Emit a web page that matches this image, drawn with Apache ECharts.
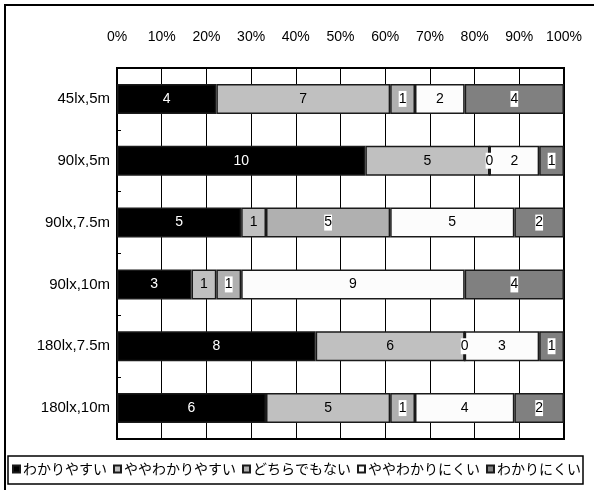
<!DOCTYPE html>
<html>
<head>
<meta charset="utf-8">
<script src="https://cdn.jsdelivr.net/npm/echarts@6/dist/echarts.min.js"></script>
<style>
  html, body { margin: 0; padding: 0; background: #fff; }
  #chart { width: 594px; height: 490px; }
</style>
</head>
<body>
<div id="chart"></div>
<script>
// Conditions (illuminance x distance)
const categories = ['45lx,5m', '90lx,5m', '90lx,7.5m', '90lx,10m', '180lx,7.5m', '180lx,10m'];

// Response counts per answer
const easy         = [4, 10, 5, 3, 8, 6];
const fairlyEasy   = [7, 5, 1, 1, 6, 5];
const neutral      = [1, 0, 5, 1, 0, 1];
const fairlyHard   = [2, 2, 5, 9, 3, 4];
const hard         = [4, 1, 2, 4, 1, 2];

const seriesNames = ['わかりやすい', 'ややわかりやすい', 'どちらでもない', 'ややわかりにくい', 'わかりにくい'];
const tickValues = [0, 10, 20, 30, 40, 50, 60, 70, 80, 90, 100];

const groups = [easy, fairlyEasy, neutral, fairlyHard, hard];
const totals = categories.map((_, i) => groups.reduce((s, g) => s + g[i], 0));

const fills = ['#000000', '#c0c0c0', '#b0b0b0', '#fcfcfc', '#808080'];
const labelColors = ['#ffffff', '#000000', '#000000', '#000000', '#000000'];
const labelBgs = [null, null, '#ffffff', null, '#ffffff'];

const numFont = '"Liberation Sans", Arial, sans-serif';
const narrowFont = '"Liberation Sans Narrow", "Liberation Sans", Arial, sans-serif';

const chart = echarts.init(document.getElementById('chart'), null, { renderer: 'canvas' });

chart.setOption({
  animation: false,
  backgroundColor: '#ffffff',
  grid: {
    left: 117, top: 68, width: 447, height: 371,
    show: true, borderColor: '#000', borderWidth: 2, backgroundColor: 'transparent'
  },
  xAxis: {
    type: 'value',
    position: 'top',
    min: 0, max: 100, interval: 10,
    axisLine: { show: false },
    axisTick: { show: false },
    axisLabel: {
      margin: 24,
      color: '#000',
      fontSize: 14,
      fontFamily: narrowFont,
      formatter: v => tickValues.includes(v) ? v + '%' : ''
    },
    splitLine: { show: true, lineStyle: { color: '#000', width: 1 } }
  },
  yAxis: {
    type: 'category',
    data: categories,
    inverse: true,
    axisLine: { show: true, lineStyle: { color: '#000', width: 2 } },
    axisTick: { show: true, inside: true, length: 4, lineStyle: { color: '#000' } },
    axisLabel: { color: '#000', fontSize: 15, fontFamily: narrowFont, margin: 7 },
    splitLine: { show: false }
  },
  legend: {
    left: 12, top: 462,
    icon: 'rect',
    itemWidth: 7, itemHeight: 7,
    itemGap: 6,
    padding: 0,
    textStyle: { color: '#000', fontSize: 14, fontFamily: '"Noto Sans CJK JP", sans-serif', padding: [0, 0, 0, -2] },
    data: seriesNames
  },
  graphic: [
    { type: 'rect', silent: true, z: 100,
      shape: { x: 5, y: 5, width: 640, height: 540 },
      style: { fill: 'none', stroke: '#000', lineWidth: 2 } },
    { type: 'rect', silent: true, z: 100,
      shape: { x: 8, y: 456, width: 575, height: 28 },
      style: { fill: 'none', stroke: '#000', lineWidth: 1.5 } }
  ],
  series: groups.map((g, k) => ({
    name: seriesNames[k],
    type: 'bar',
    stack: 'total',
    barWidth: 30,
    data: g.map((v, i) => ({ value: v / totals[i] * 100, count: v })),
    itemStyle: { color: fills[k], borderColor: '#1a1a1a', borderWidth: 1.5 },
    label: {
      show: true,
      position: 'inside',
      color: labelColors[k],
      fontSize: 14,
      fontFamily: numFont,
      backgroundColor: labelBgs[k] || 'transparent',
      padding: [1, 0],
      formatter: p => String(p.data.count)
    },
    emphasis: { disabled: true }
  }))
});
</script>
</body>
</html>
